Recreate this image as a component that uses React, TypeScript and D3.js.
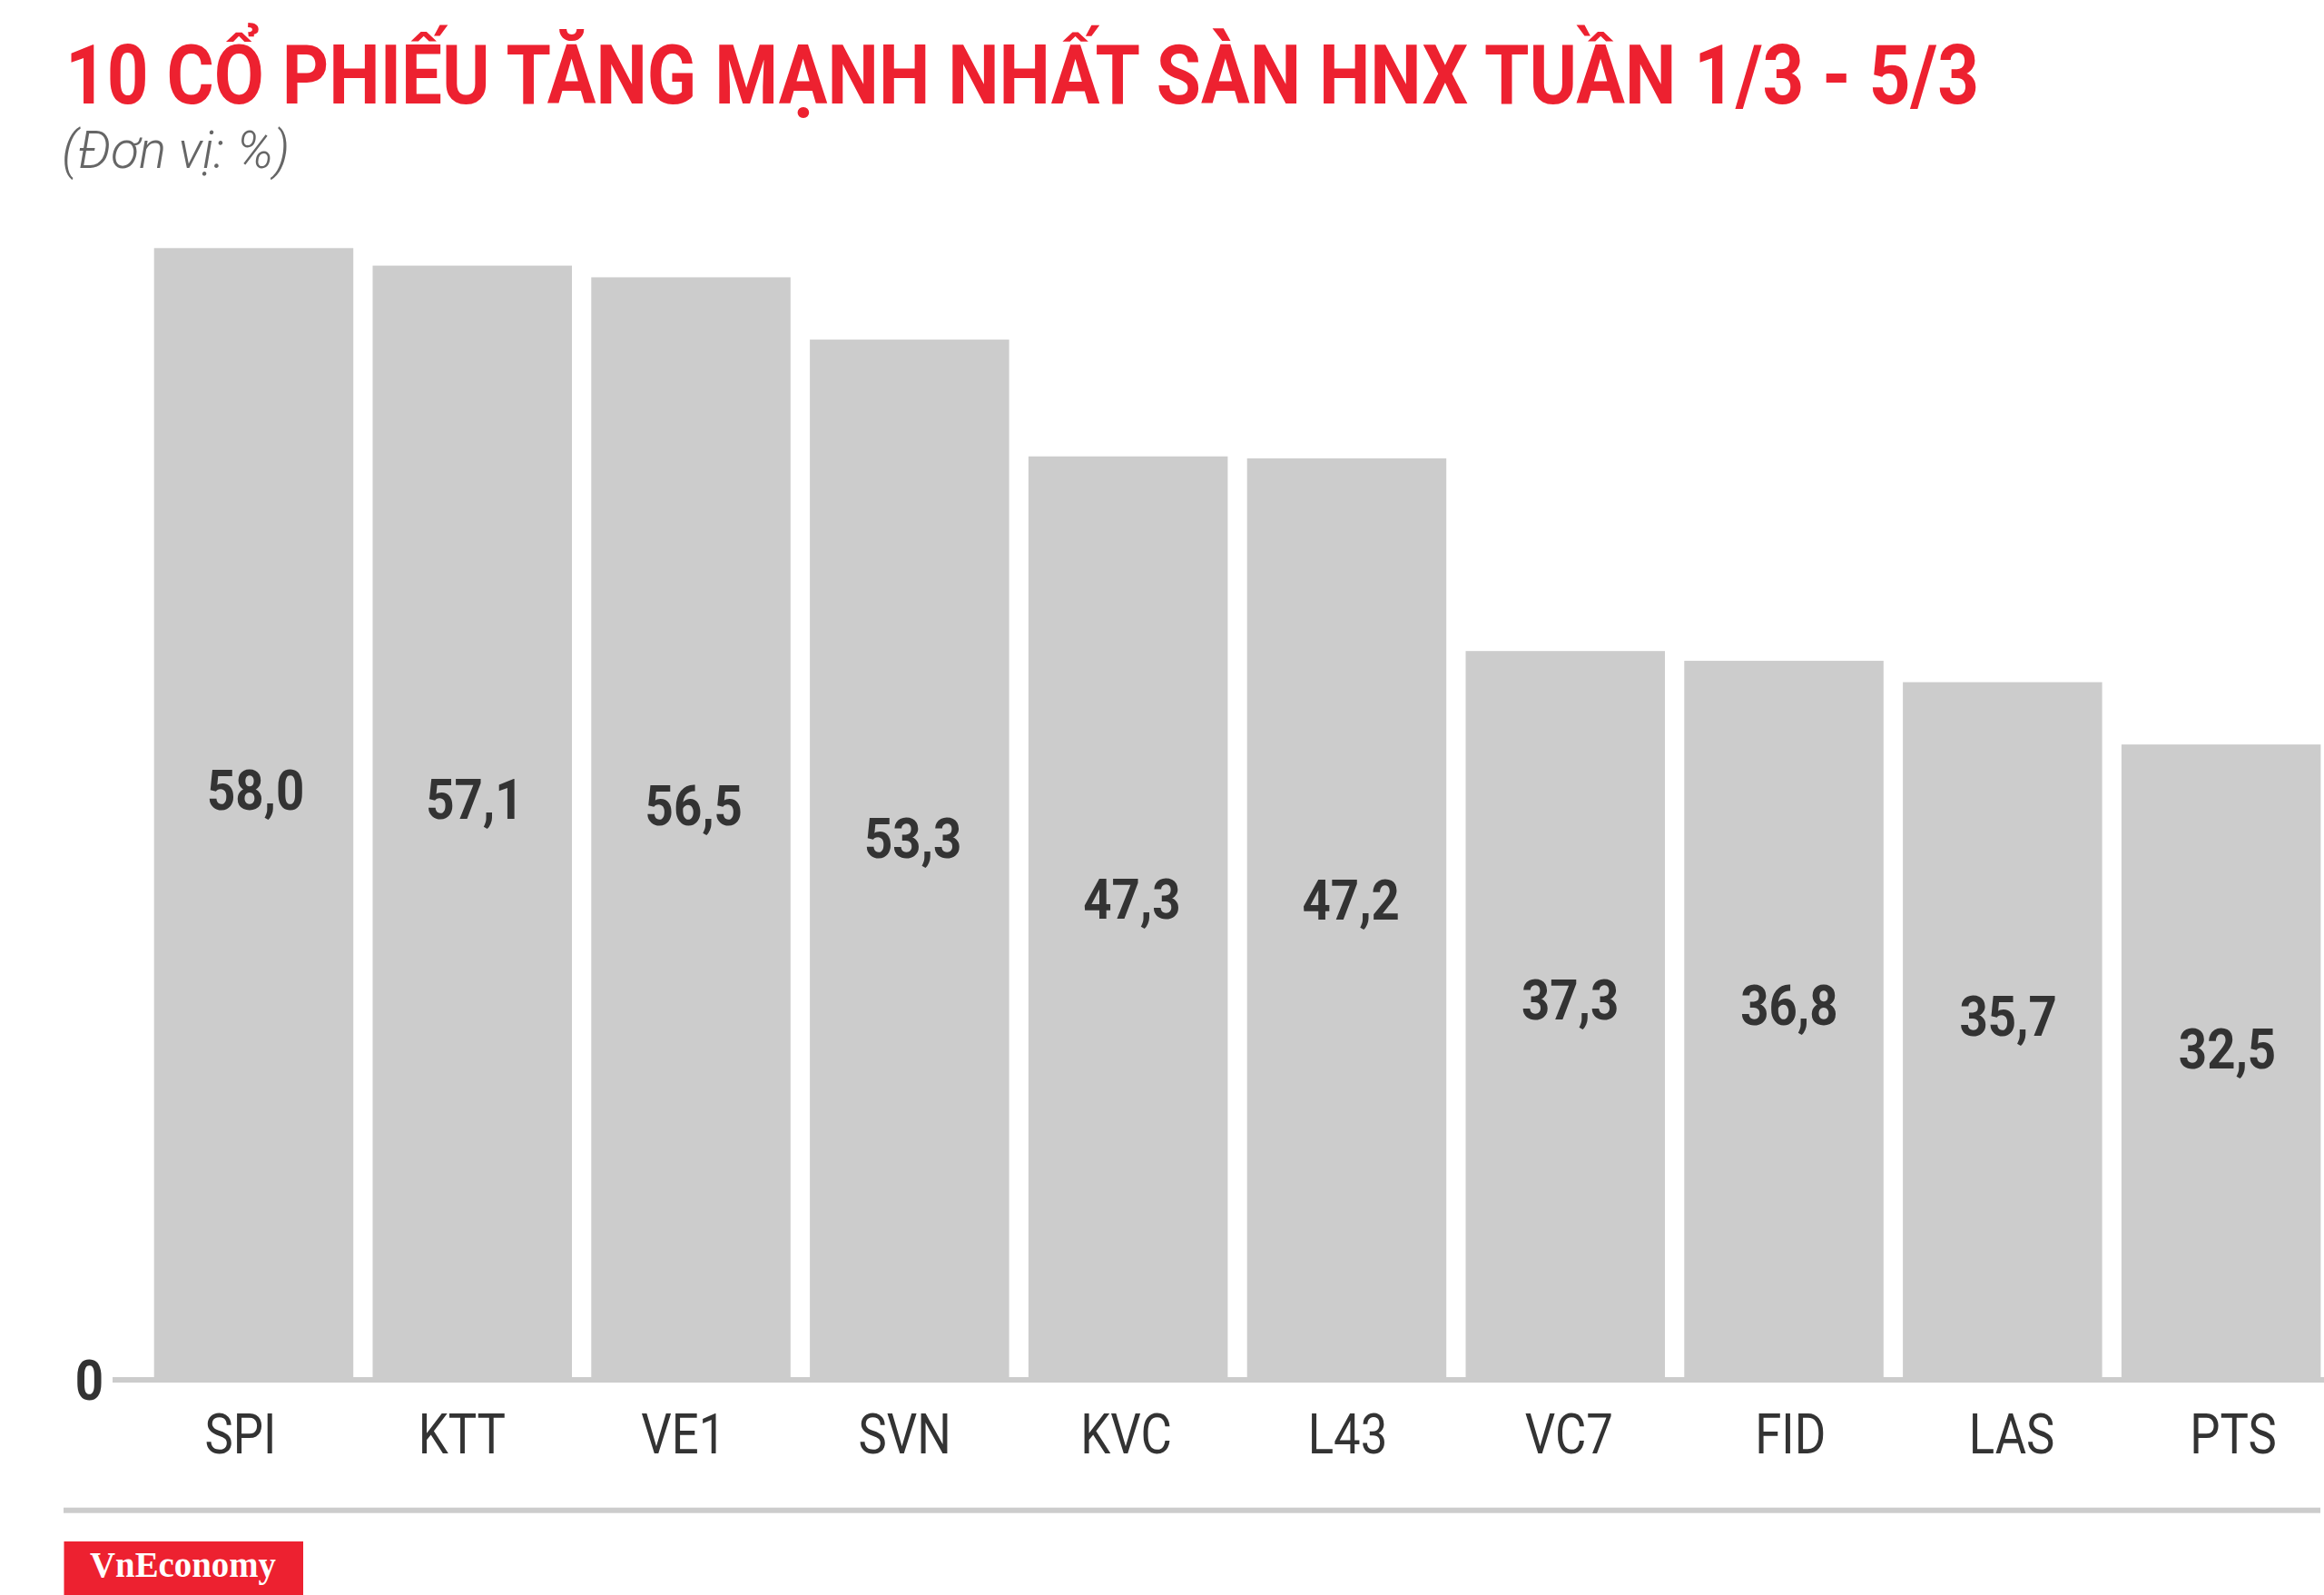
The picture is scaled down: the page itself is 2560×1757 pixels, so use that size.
import React from "react";
import * as d3 from "d3";

const categories: string[] = ["SPI", "KTT", "VE1", "SVN", "KVC", "L43", "VC7", "FID", "LAS", "PTS"];
const values: number[] = [58.0, 57.1, 56.5, 53.3, 47.3, 47.2, 37.3, 36.8, 35.7, 32.5];
const yTicks: number[] = [0];
const titleText = "10 CỔ PHIẾU TĂNG MẠNH NHẤT SÀN HNX TUẦN 1/3 - 5/3";
const subtitleText = "(Đơn vị: %)";
const brandText = "VnEconomy";

const W = 2560;
const H = 1757;
const RED = "#ed2130";
const BAR = "#cccccc";
const INK = "#333333";
const CONDENSE = 0.88;
const CAT_CONDENSE = 0.85;

const fmt = (v: number) => v.toFixed(1).replace(".", ",");

export default function App() {
  const x = d3
    .scaleBand<string>()
    .domain(categories)
    .range([169.7, 2556.4])
    .paddingInner(0.0885)
    .paddingOuter(0);
  const y = d3.scaleLinear().domain([0, d3.max(values) as number]).range([1517, 273.3]);
  const xCat = d3.scalePoint<string>().domain(categories).range([265, 2460]);
  const xVal = d3.scalePoint<string>().domain(categories).range([281.6, 2453.5]);

  const valueFont = 62;
  const digitHalf = (0.711 * valueFont) / 2;

  return (
    <div style={{ position: "absolute", left: 0, top: 0, width: W, height: H, background: "#fff" }}>
      <svg width={W} height={H} viewBox={`0 0 ${W} ${H}`} style={{ display: "block" }}>
        <rect x={0} y={0} width={W} height={H} fill="#ffffff" />
        {/* Title */}
        <text
          x={72}
          y={114}
          textLength={2108}
          lengthAdjust="spacingAndGlyphs"
          fontFamily="Roboto, 'Noto Sans', sans-serif"
          fontWeight={700}
          fontSize={91}
          fill={RED}
        >
          {titleText}
        </text>
        <text
          x={68}
          y={185}
          textLength={251}
          lengthAdjust="spacingAndGlyphs"
          fontFamily="Roboto, 'Noto Sans', sans-serif"
          fontStyle="italic"
          fontWeight={300}
          fontSize={58}
          fill="#666666"
        >
          {subtitleText}
        </text>

        {/* Bars */}
        {categories.map((c, i) => (
          <rect
            key={c}
            x={x(c)}
            y={y(values[i])}
            width={x.bandwidth()}
            height={y(0) - y(values[i])}
            fill={BAR}
          />
        ))}

        {/* Baseline */}
        <rect x={124} y={y(0)} width={W - 124} height={6} fill={BAR} />
        {yTicks.map((t) => (
          <text
            key={t}
            transform={`translate(114,${y(t) + 3 + digitHalf}) scale(${CONDENSE},1)`}
            textAnchor="end"
            fontFamily="Roboto, sans-serif"
            fontWeight={700}
            fontSize={valueFont}
            fill={INK}
          >
            {t}
          </text>
        ))}

        {/* Value labels */}
        {categories.map((c, i) => {
          const top = y(values[i]);
          const cy = top + 0.48 * (y(0) - top);
          return (
            <text
              key={"v" + c}
              transform={`translate(${xVal(c)},${cy + digitHalf}) scale(${CONDENSE},1)`}
              textAnchor="middle"
              fontFamily="Roboto, sans-serif"
              fontWeight={700}
              fontSize={valueFont}
              fill={INK}
            >
              {fmt(values[i])}
            </text>
          );
        })}

        {/* Category labels */}
        {categories.map((c) => (
          <text
            key={"c" + c}
            transform={`translate(${xCat(c)},1600.7) scale(${CAT_CONDENSE},1)`}
            textAnchor="middle"
            fontFamily="Roboto, sans-serif"
            fontWeight={400}
            fontSize={62}
            fill={INK}
          >
            {c}
          </text>
        ))}

        {/* Footer separator */}
        <rect x={70} y={1660.7} width={2486} height={6} fill={BAR} />

        {/* Brand */}
        <rect x={70.5} y={1698} width={263.5} height={H - 1698} fill={RED} />
        <text
          x={99}
          y={1737}
          textLength={205}
          lengthAdjust="spacingAndGlyphs"
          fontFamily="'Liberation Serif', 'DejaVu Serif', serif"
          fontWeight={700}
          fontSize={40}
          fill="#ffffff"
        >
          {brandText}
        </text>
      </svg>
    </div>
  );
}
